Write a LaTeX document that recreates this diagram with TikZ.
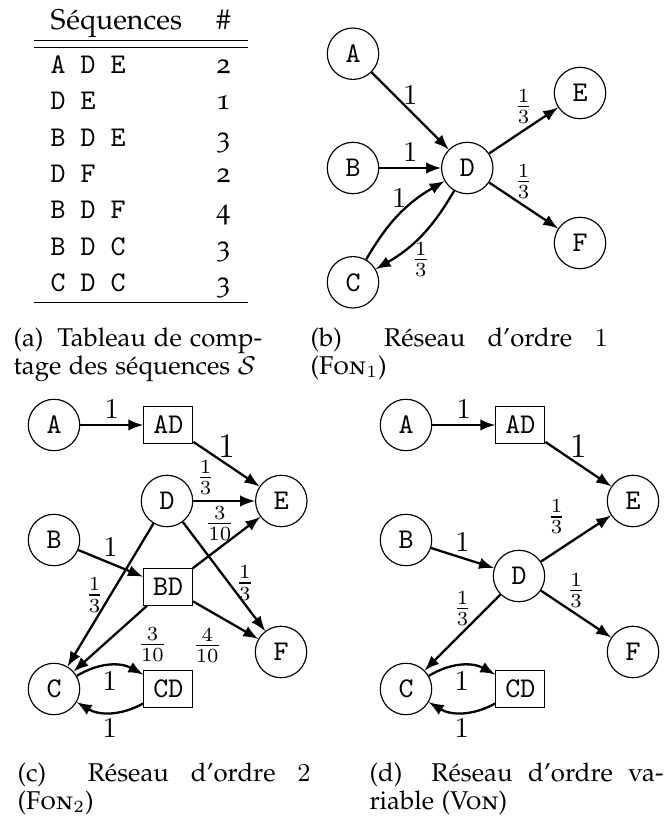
\documentclass[tikz,border=0pt]{standalone}
\usepackage[T1,TU]{fontenc}
\usepackage{array}
\usepackage{amsmath,amssymb}
\usetikzlibrary{arrows,positioning}
\newcommand{\pala}{\fontencoding{T1}\fontfamily{pplj}\selectfont}
\newcommand{\sublabel}[1]{(#1)\hskip 0.5em plus 0.35em}

\begin{document}
\begin{tikzpicture}[x=0.35pt,y=-0.35pt,node distance=40pt,>=latex,
	main node/.style={circle,draw,minimum size=18pt,inner sep=0pt,font=\ttfamily},
	pair node/.style={rectangle,draw,font=\ttfamily},
	sub caption/.style={anchor=north west,inner sep=0pt,align=left,font=\fontsize{9}{10}\pala}]
\useasboundingbox (0,0) rectangle (669,821);

% (a) comptage
\node[anchor=north west,inner sep=0pt] (tab) at (33,3) {\renewcommand{\arraystretch}{1.06}%
	\begin{tabular}{l>{\pala}c}
	{\pala S\'equences} & \# \\ \hline\hline
	\texttt{A D E} & 2 \\
	\texttt{D E} & 1 \\
	\texttt{B D E} & 3 \\
	\texttt{D F} & 2 \\
	\texttt{B D F} & 4 \\
	\texttt{B D C} & 3 \\
	\texttt{C D C} & 3 \\ \hline
	\end{tabular}};
\node[sub caption] (capa) at (13,327) {\makebox[87pt][s]{\sublabel{a}Tableau de comp-}\\tage des s\'equences $\mathcal{S}$};

% (b) ordre 1
\node[main node] (bB) at (353,168) {B};
\node[main node] (bA) [above of=bB] {A};
\node[main node] (bC) [below of=bB] {C};
\node[main node] (bD) [right of=bB] {D};
\node[main node] (bE) at (580,93) {E};
\node[main node] (bF) at (580,243) {F};
\path[->,thick,every node/.style={inner sep=2pt}]
	(bA) edge node[above] {$1$} (bD)
	(bB) edge node[above] {$1$} (bD)
	(bC) edge [bend left=15] node[above] {$1$} (bD)
	(bD) edge [bend left=15] node[below] {$\frac13$} (bC)
	edge node[above] {$\frac13$} (bE)
	edge node[above] {$\frac13$} (bF);
\node[sub caption] (capb) at (310,327) {\makebox[104pt][s]{\sublabel{b}R\'eseau d'ordre $1$}\\(\textsc{Fon}$_1$)};

% (c) ordre 2
\node[main node] (cA) at (54,425) {A};
\node[pair node] (cAD) [right of=cA] {AD};
\node[main node] (cB) at (54,540) {B};
\node[pair node] (cBD) at (168,587) {BD};
\node[main node] (cD) at (167,501) {D};
\node[main node] (cE) [right of=cD] {E};
\node[main node] (cF) at (281,652) {F};
\node[main node] (cC) at (54,689) {C};
\node[pair node] (cCD) [right of=cC] {CD};
\path[->,thick,every node/.style={inner sep=2pt}]
	(cA) edge node[above] {$1$} (cAD)
	(cAD) edge node[above,font=\large] {$1$} (cE)
	(cB) edge node[above] {$1$} (cBD)
	(cD) edge node[above,pos=0.2] {$\frac13$} (cE)
	edge node[right,pos=0.56] {$\frac13$} (cF)
	edge node[left] {$\frac13$} (cC)
	(cBD) edge node[above,pos=0.4] {$\frac{3}{10}$} (cE)
	edge node[below left,pos=0.55] {$\frac{4}{10}$} (cF)
	edge node[below right,pos=0.22] {$\frac{3}{10}$} (cC)
	(cC) edge [bend left=30] node[below] {$1$} (cCD)
	(cCD) edge [bend left=30] node[below] {$1$} (cC);
\node[sub caption] (capc) at (17,762) {\makebox[102.6pt][s]{\sublabel{c}R\'eseau d'ordre $2$}\\(\textsc{Fon}$_2$)};

% (d) ordre variable
\node[main node] (dA) at (406,425) {A};
\node[pair node] (dAD) [right of=dA] {AD};
\node[main node] (dE) at (633,501) {E};
\node[main node] (dB) at (406,540) {B};
\node[main node] (dD) at (519,576) {D};
\node[main node] (dF) at (633,652) {F};
\node[main node] (dC) at (406,689) {C};
\node[pair node] (dCD) [right of=dC] {CD};
\path[->,thick,every node/.style={inner sep=2pt}]
	(dA) edge node[above] {$1$} (dAD)
	(dAD) edge node[above,font=\large] {$1$} (dE)
	(dB) edge node[above] {$1$} (dD)
	(dD) edge node[above left,pos=0.45] {$\frac13$} (dE)
	edge node[above] {$\frac13$} (dF)
	edge node[above] {$\frac13$} (dC)
	(dC) edge [bend left=30] node[below] {$1$} (dCD)
	(dCD) edge [bend left=30] node[below] {$1$} (dC);
\node[sub caption] (capd) at (369,762) {\makebox[102.9pt][s]{\sublabel{d}R\'eseau d'ordre va-}\\riable (\textsc{Von})};
\end{tikzpicture}
\end{document}
